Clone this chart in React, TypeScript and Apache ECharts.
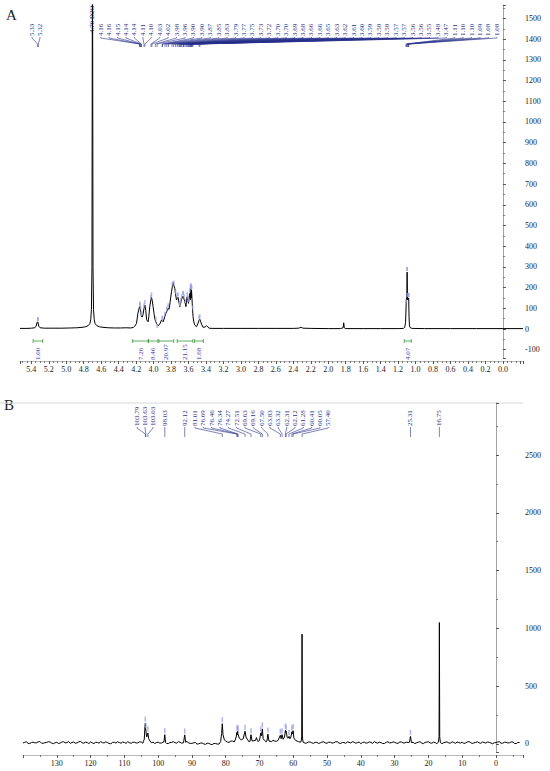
import React, { useEffect, useRef } from "react";
import * as echarts from "echarts";

const SERIF = '"Liberation Serif", "Times New Roman", serif';
const LABEL_BLUE = "#28318c";
const INTEG_GREEN = "#3b9b3b";
const INTEG_BLUE = "#3d3db6";
const AXIS_GREY = "#8a8a8a";
const TEXT_GREY = "#222222";
const MARK_BLUE = "#9aa0e6";

// ---------- 1H spectrum (panel A): [ppm, intensity] ----------
const H1_SPECTRUM: [number, number][] = [
  [5.53, 3], [5.45, 3], [5.4, 4], [5.36, 6], [5.345, 14], [5.335, 32], [5.325, 34], [5.315, 14], [5.3, 6],
  [5.25, 4], [5.15, 4], [5.05, 4], [4.95, 5], [4.88, 6], [4.82, 8], [4.78, 11], [4.75, 16], [4.73, 26],
  [4.72, 45], [4.712, 95], [4.706, 300], [4.702, 1500], [4.7, 3000], [4.698, 1500], [4.694, 300],
  [4.688, 95], [4.68, 45], [4.67, 26], [4.65, 16], [4.62, 11], [4.58, 8], [4.52, 6], [4.45, 5], [4.38, 5],
  [4.32, 6], [4.26, 5], [4.23, 8], [4.215, 14], [4.196, 27], [4.18, 75], [4.165, 102], [4.158, 108],
  [4.15, 90], [4.139, 60], [4.13, 58], [4.12, 72], [4.11, 100], [4.1, 116], [4.09, 90], [4.08, 45],
  [4.063, 35], [4.055, 60], [4.044, 108], [4.032, 140], [4.024, 153], [4.015, 135], [4.006, 108],
  [3.995, 75], [3.987, 51], [3.975, 35], [3.967, 27], [3.95, 16], [3.93, 23], [3.91, 43], [3.9, 40],
  [3.89, 35], [3.872, 59], [3.86, 75], [3.85, 84], [3.84, 92], [3.834, 100], [3.825, 95], [3.815, 116],
  [3.805, 150], [3.795, 180], [3.785, 205], [3.777, 225], [3.768, 210], [3.757, 196], [3.748, 165],
  [3.738, 140], [3.73, 148], [3.72, 153], [3.71, 130], [3.7, 108], [3.69, 125], [3.68, 143], [3.672, 150],
  [3.662, 159], [3.652, 145], [3.643, 132], [3.635, 120], [3.63, 108], [3.622, 140], [3.616, 156],
  [3.608, 138], [3.6, 124], [3.594, 150], [3.585, 172], [3.58, 140], [3.577, 190], [3.574, 196],
  [3.57, 150], [3.566, 188], [3.562, 160], [3.558, 125], [3.553, 90], [3.548, 59], [3.54, 35],
  [3.528, 19], [3.509, 11], [3.49, 29], [3.48, 42], [3.471, 47], [3.462, 38], [3.452, 24], [3.433, 8],
  [3.41, 10], [3.394, 16], [3.38, 10], [3.364, 4], [3.33, 3], [3.2, 3], [3.0, 3], [2.8, 3], [2.6, 3],
  [2.4, 3], [2.34, 4], [2.31, 8], [2.29, 4], [2.2, 3], [2.0, 2], [1.86, 2], [1.83, 6], [1.823, 30],
  [1.817, 6], [1.8, 2], [1.6, 2], [1.4, 2], [1.2, 2], [1.14, 3], [1.125, 8], [1.115, 30], [1.108, 120],
  [1.104, 150], [1.1, 140], [1.097, 275], [1.094, 150], [1.09, 140], [1.087, 150], [1.083, 145],
  [1.079, 150], [1.075, 60], [1.07, 15], [1.06, 6], [1.04, 3], [0.9, 2], [0.6, 2], [0.3, 2], [0.0, 2],
  [-0.23, 2],
];

const H1_LABELS_LEFT = [5.33, 5.32];
const H1_LABEL_D2O = [4.7];
const H1_LABEL_D2O_TEXT = ["4.70 D2O"];
const H1_LABELS_MAIN = [
  4.16, 4.16, 4.15, 4.14, 4.14, 4.11, 4.1, 4.03, 4.02, 3.98, 3.96, 3.9, 3.9, 3.87, 3.85, 3.83, 3.79, 3.77,
  3.75, 3.73, 3.72, 3.7, 3.7, 3.69, 3.68, 3.66, 3.66, 3.65, 3.63, 3.62, 3.61, 3.6, 3.59, 3.58, 3.58, 3.57,
  3.57, 3.56, 3.56, 3.55, 3.48, 3.47, 1.11, 1.1, 1.1, 1.09, 1.08, 1.08,
];

// [from ppm, to ppm, integral]
const H1_INTEGRALS: [number, number, number][] = [
  [5.38, 5.27, 1.0],
  [4.24, 4.06, 7.26],
  [4.06, 3.95, 8.46],
  [3.94, 3.77, 20.97],
  [3.73, 3.55, 21.15],
  [3.53, 3.43, 1.68],
  [1.13, 1.05, 4.07],
];

// ---------- 13C spectrum (panel B) ----------
// baseline noise read every 0.5 ppm from 140 down to -7
const C13_BASELINE = [
  8, 14, 18, 5, 3, 12, 15, 9, 10, 17, 21, 6, 5, 11, 13, 19, 17, 7, 2, 10,
  14, 4, 7, 16, 19, 9, 11, 20, 4, 13, 16, 6, 9, 18, 22, 10, 6, 15, 12, 3,
  17, 9, 3, 14, 13, 6, 20, 11, 8, 18, 11, 4, 1, 13, 15, 7, 18, 12, 6, 16,
  12, 5, 19, 10, 5, 15, 14, 8, 9, 18, 16, 6, 7, 12, 21, 9, 10, 15, 4, 11,
  15, 7, 8, 17, 18, 4, 3, 12, 13, 19, 11, 6, 20, 14, 6, 10, 16, 21, 9, 5,
  4, 10, 12, -2, 1, 7, 8, 0, -4, 6, 5, -3, -6, 4, 3, -1, -2, 8, 10, 16,
  22, 15, 14, 24, 25, 17, 18, 27, 28, 19, 20, 26, 24, 15, 16, 23, 22, 28, 18, 21,
  20, 28, 26, 17, 18, 29, 24, 20, 30, 25, 22, 31, 28, 21, 25, 30, 30, 22, 26, 31,
  28, 22, 20, 13, 15, 19, 12, 6, 8, 17, 16, 9, 5, 14, 13, 4, 9, 16, 18, 8,
  6, 15, 14, 7, 10, 18, 19, 8, 3, 12, 12, 5, 17, 14, 8, 19, 15, 6, 11, 16,
  2, 12, 16, 7, 9, 18, 13, 4, 20, 11, 7, 15, 11, 3, 4, 14, 18, 9, 10, 17,
  14, 7, 5, 16, 17, 8, 9, 15, 12, 4, 21, 13, 3, 10, 15, 19, 8, 2, 13, 16,
  19, 9, 6, 15, 11, 3, 16, 12, 2, 10, 14, 18, 9, 6, 18, 13, 5, 16, 12, 7,
  15, 4, 8, 17, 20, 11, 4, 9, 13, 18, 10, 5, 17, 12, 7, 16, 14, 8, 1, 10,
  11, 17, 18, 6, 6, 15, 14, 9, 9, 18, 16, 4, 3, 13, 12,
];
const C13_BASELINE_START = 140;
const C13_BASELINE_STEP = 0.5;

const C13_PEAKS: [number, number][][] = [
  [[104.4, 18], [104.1, 40], [103.9, 150], [103.79, 180], [103.7, 130], [103.63, 125], [103.4, 60], [103.15, 80], [103.03, 95], [102.8, 45], [102.4, 25]],
  [[98.3, 15], [98.03, 80], [97.8, 12]],
  [[92.4, 12], [92.12, 78], [91.85, 14]],
  [[81.5, 20], [81.2, 90], [81.01, 175], [80.8, 80], [80.4, 35], [80.0, 25]],
  [[77.3, 25], [76.9, 60], [76.69, 100], [76.55, 80], [76.46, 110], [76.4, 90], [76.34, 95], [76.0, 50], [75.4, 35], [74.8, 45], [74.5, 85], [74.27, 110], [74.0, 60], [73.5, 35]],
  [[72.8, 25], [72.51, 80], [72.2, 25], [71.2, 30], [70.9, 55], [70.6, 28]],
  [[70.0, 30], [69.63, 95], [69.4, 70], [69.16, 130], [68.9, 45], [68.5, 30]],
  [[67.8, 25], [67.5, 85], [67.2, 25]],
  [[64.3, 30], [63.83, 75], [63.6, 45], [63.32, 80], [63.0, 40], [62.6, 60], [62.31, 120], [62.2, 100], [62.12, 110], [61.8, 55], [61.5, 50], [61.28, 65], [61.0, 45], [60.7, 60], [60.41, 105], [60.25, 85], [60.05, 115], [59.8, 50], [59.3, 30], [58.5, 20]],
  [[57.7, 18], [57.5, 60], [57.4, 950], [57.3, 60], [57.1, 15]],
  [[25.6, 14], [25.31, 65], [25.0, 12]],
  [[17.05, 15], [16.85, 60], [16.75, 1050], [16.65, 60], [16.45, 12]],
];

const C13_LABELS_LEFT = [103.79, 103.63, 103.03];
const C13_LABELS_SINGLE = [98.03, 92.12, 25.31, 16.75];
const C13_LABELS_MID = [
  81.01, 76.69, 76.46, 76.34, 74.27, 72.51, 69.63, 69.16, 67.5, 63.83, 63.32, 62.31, 62.12, 61.28, 60.41,
  60.05, 57.4,
];

function buildC13(): [number, number][] {
  const ranges = C13_PEAKS.map((c) => [Math.min(...c.map((p) => p[0])) - 0.05, Math.max(...c.map((p) => p[0])) + 0.05]);
  const base: [number, number][] = C13_BASELINE.map(
    (v, i) => [C13_BASELINE_START - i * C13_BASELINE_STEP, v] as [number, number]
  ).filter(([p]) => !ranges.some(([a, b]) => p >= a && p <= b));
  const all = base.concat(...C13_PEAKS);
  return all.sort((a, b) => b[0] - a[0]);
}

// peak-top markers: the spectrum value nearest to each labelled shift
function peakTops(spec: [number, number][], ppms: number[], win: number): [number, number][] {
  return ppms.map((p) => {
    let best: [number, number] = [p, 0];
    spec.forEach(([x, y]) => {
      if (Math.abs(x - p) <= win && y > best[1]) best = [x, y];
    });
    return best;
  });
}

type LabelLayout = { start: number | null; step: number; textBottom: number; bend: number; peakY: number; endY: number };

function labelSeries(idx: number, ppms: number[], texts: string[], L: LabelLayout) {
  return {
    type: "custom",
    xAxisIndex: idx,
    yAxisIndex: idx,
    silent: true,
    clip: false,
    data: ppms.map((p, i) => [p, i]),
    renderItem: (_params: any, api: any) => {
      const p = api.value(0) as number;
      const i = api.value(1) as number;
      const px = api.coord([p, 0])[0];
      const lx = L.start == null ? px : L.start + i * L.step;
      return {
        type: "group",
        children: [
          {
            type: "text",
            x: lx,
            y: L.textBottom,
            rotation: Math.PI / 2,
            style: { text: texts[i], fill: LABEL_BLUE, fontSize: 7, fontFamily: SERIF, align: "left", verticalAlign: "middle" },
          },
          {
            type: "polyline",
            shape: { points: [[lx, L.textBottom + 1], [lx, L.bend], [px, L.peakY], [px, L.endY]] },
            style: { stroke: LABEL_BLUE, lineWidth: 0.6, fill: "none" },
          },
        ],
      };
    },
  };
}

function fmtStep(step: number, digits: number, lo: number, hi: number) {
  return (v: number) => {
    const k = v / step;
    if (Math.abs(k - Math.round(k)) > 1e-6) return "";
    if (v < lo - 1e-9 || v > hi + 1e-9) return "";
    if (Math.abs(v) < 1e-9) return (0).toFixed(digits);
    return v.toFixed(digits);
  };
}

export default function App() {
  const ref = useRef<HTMLDivElement>(null);
  useEffect(() => {
    if (!ref.current) return;
    const chart = echarts.init(ref.current, null, { renderer: "svg" });
    const axisLabel = { fontSize: 8, fontFamily: SERIF, color: TEXT_GREY };
    const c13 = buildC13();
    const option: any = {
      animation: false,
      backgroundColor: "#ffffff",
      textStyle: { fontFamily: SERIF, color: TEXT_GREY },
      grid: [
        { left: 20, top: 5, width: 503, height: 353 },
        { left: 23, top: 403, width: 500, height: 349 },
      ],
      xAxis: [
        {
          type: "value", gridIndex: 0, min: -0.23, max: 5.53, inverse: true, splitNumber: 29, offset: 3,
          axisLine: { show: true, onZero: false, lineStyle: { color: AXIS_GREY, width: 0.6 } },
          axisTick: { show: true, length: 3, lineStyle: { color: "#555" } },
          minorTick: { show: true, splitNumber: 4, length: 2, lineStyle: { color: "#777" } },
          axisLabel: { ...axisLabel, margin: 4, formatter: fmtStep(0.2, 1, 0, 5.4) },
          splitLine: { show: false },
        },
        {
          type: "value", gridIndex: 1, min: -8, max: 140, inverse: true, splitNumber: 15, offset: 3,
          axisLine: { show: true, onZero: false, lineStyle: { color: AXIS_GREY, width: 0.6 } },
          axisTick: { show: true, length: 3, lineStyle: { color: "#555" } },
          minorTick: { show: true, splitNumber: 2, length: 2, lineStyle: { color: "#777" } },
          axisLabel: { ...axisLabel, margin: 4, formatter: fmtStep(10, 0, 0, 130) },
          splitLine: { show: false },
        },
      ],
      yAxis: [
        {
          type: "value", gridIndex: 0, position: "right", min: -140, max: 1565, splitNumber: 17,
          axisLine: { show: true, lineStyle: { color: AXIS_GREY, width: 0.8 } },
          axisTick: { show: true, length: 3, lineStyle: { color: "#555" } },
          minorTick: { show: true, splitNumber: 2, length: 2, lineStyle: { color: "#777" } },
          axisLabel: { ...axisLabel, margin: 2, formatter: fmtStep(100, 0, -100, 1500) },
          splitLine: { show: false },
        },
        {
          type: "value", gridIndex: 1, position: "right", min: -70, max: 2950, splitNumber: 6,
          axisLine: { show: true, lineStyle: { color: AXIS_GREY, width: 0.8 } },
          axisTick: { show: true, length: 3, lineStyle: { color: "#555" } },
          minorTick: { show: true, splitNumber: 2, length: 2, lineStyle: { color: "#777" } },
          axisLabel: { ...axisLabel, margin: 2, formatter: fmtStep(500, 0, 0, 2500) },
          splitLine: { show: false },
        },
      ],
      graphic: [
        { type: "text", left: 6, top: 7, style: { text: "A", fontSize: 15, fontFamily: SERIF, fill: TEXT_GREY } },
        { type: "text", left: 4, top: 397, style: { text: "B", fontSize: 15, fontFamily: SERIF, fill: TEXT_GREY } },
        { type: "line", shape: { x1: 0, y1: 403, x2: 523, y2: 403 }, style: { stroke: "#d8d8d8", lineWidth: 1 } },
      ],
      series: [
        {
          type: "line", xAxisIndex: 0, yAxisIndex: 0, data: H1_SPECTRUM, showSymbol: false, clip: true,
          lineStyle: { color: "#000", width: 1 }, silent: true, z: 3,
        },
        {
          type: "line", xAxisIndex: 1, yAxisIndex: 1, data: c13, showSymbol: false, clip: true,
          lineStyle: { color: "#000", width: 1 }, silent: true, z: 3,
        },
        {
          type: "scatter", xAxisIndex: 0, yAxisIndex: 0, silent: true, z: 4,
          data: peakTops(H1_SPECTRUM, H1_LABELS_MAIN.concat(H1_LABELS_LEFT), 0.006),
          symbol: "rect", symbolSize: [1.5, 4], symbolOffset: [0, -3], itemStyle: { color: MARK_BLUE },
        },
        {
          type: "scatter", xAxisIndex: 1, yAxisIndex: 1, silent: true, z: 4,
          data: peakTops(c13, C13_LABELS_LEFT.concat(C13_LABELS_SINGLE, C13_LABELS_MID), 0.02).filter((d) => d[1] < 500),
          symbol: "rect", symbolSize: [1.5, 5], symbolOffset: [0, -4], itemStyle: { color: MARK_BLUE },
        },
        labelSeries(0, H1_LABELS_LEFT, H1_LABELS_LEFT.map((v) => v.toFixed(2)), { start: 32, step: 8, textBottom: 36, bend: 38, peakY: 44, endY: 47 }),
        labelSeries(0, H1_LABEL_D2O, H1_LABEL_D2O_TEXT, { start: null, step: 0, textBottom: 33, bend: 34, peakY: 34, endY: 34 }),
        labelSeries(0, H1_LABELS_MAIN, H1_LABELS_MAIN.map((v) => v.toFixed(2)), { start: 100.7, step: 8.43, textBottom: 36, bend: 38, peakY: 44, endY: 47 }),
        labelSeries(1, C13_LABELS_LEFT, C13_LABELS_LEFT.map((v) => v.toFixed(2)), { start: 137, step: 8, textBottom: 426, bend: 428, peakY: 434, endY: 437 }),
        labelSeries(1, C13_LABELS_SINGLE, C13_LABELS_SINGLE.map((v) => v.toFixed(2)), { start: null, step: 0, textBottom: 426, bend: 428, peakY: 434, endY: 437 }),
        labelSeries(1, C13_LABELS_MID, C13_LABELS_MID.map((v) => v.toFixed(2)), { start: 195, step: 8.33, textBottom: 426, bend: 428, peakY: 434, endY: 437 }),
        {
          type: "custom", xAxisIndex: 0, yAxisIndex: 0, silent: true, clip: false,
          data: H1_INTEGRALS.map(([a, b, v]) => [a, b, v]),
          renderItem: (_p: any, api: any) => {
            const x1 = api.coord([api.value(0), 0])[0];
            const x2 = api.coord([api.value(1), 0])[0];
            const cx = (x1 + x2) / 2;
            const y = 341;
            const st = { stroke: INTEG_GREEN, lineWidth: 0.8 };
            return {
              type: "group",
              children: [
                { type: "line", shape: { x1, y1: y, x2, y2: y }, style: st },
                { type: "line", shape: { x1, y1: y - 2, x2: x1, y2: y + 2 }, style: st },
                { type: "line", shape: { x1: x2, y1: y - 2, x2, y2: y + 2 }, style: st },
                {
                  type: "text", x: cx, y: 360, rotation: Math.PI / 2,
                  style: { text: (api.value(2) as number).toFixed(2), fill: INTEG_BLUE, fontSize: 7, fontFamily: SERIF, align: "left", verticalAlign: "middle" },
                },
              ],
            };
          },
        },
      ],
    };
    chart.setOption(option);
    return () => chart.dispose();
  }, []);
  return <div ref={ref} style={{ position: "absolute", left: 0, top: 0, width: 550, height: 771, background: "#fff" }} />;
}
